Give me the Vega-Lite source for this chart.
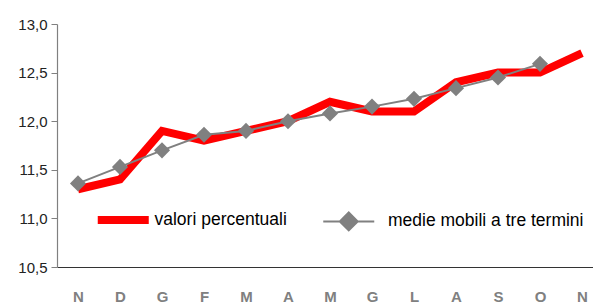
{
  "$schema": "https://vega.github.io/schema/vega-lite/v6.json",
  "width": 546,
  "height": 243,
  "autosize": "none",
  "padding": {"left": 57, "top": 24, "right": 0, "bottom": 36},
  "config": {"font": "Liberation Sans", "view": {"stroke": null}},
  "data": {"values": [
    {"i": 0, "serie": "valori percentuali", "v": 11.3},
    {"i": 1, "serie": "valori percentuali", "v": 11.4},
    {"i": 2, "serie": "valori percentuali", "v": 11.9},
    {"i": 3, "serie": "valori percentuali", "v": 11.8},
    {"i": 4, "serie": "valori percentuali", "v": 11.9},
    {"i": 5, "serie": "valori percentuali", "v": 12.0},
    {"i": 6, "serie": "valori percentuali", "v": 12.2},
    {"i": 7, "serie": "valori percentuali", "v": 12.1},
    {"i": 8, "serie": "valori percentuali", "v": 12.1},
    {"i": 9, "serie": "valori percentuali", "v": 12.4},
    {"i": 10, "serie": "valori percentuali", "v": 12.5},
    {"i": 11, "serie": "valori percentuali", "v": 12.5},
    {"i": 12, "serie": "valori percentuali", "v": 12.7},
    {"i": 0, "serie": "medie mobili a tre termini", "v": 11.36},
    {"i": 1, "serie": "medie mobili a tre termini", "v": 11.53},
    {"i": 2, "serie": "medie mobili a tre termini", "v": 11.70},
    {"i": 3, "serie": "medie mobili a tre termini", "v": 11.86},
    {"i": 4, "serie": "medie mobili a tre termini", "v": 11.90},
    {"i": 5, "serie": "medie mobili a tre termini", "v": 12.00},
    {"i": 6, "serie": "medie mobili a tre termini", "v": 12.08},
    {"i": 7, "serie": "medie mobili a tre termini", "v": 12.15},
    {"i": 8, "serie": "medie mobili a tre termini", "v": 12.23},
    {"i": 9, "serie": "medie mobili a tre termini", "v": 12.34},
    {"i": 10, "serie": "medie mobili a tre termini", "v": 12.45},
    {"i": 11, "serie": "medie mobili a tre termini", "v": 12.59}
  ]},
  "encoding": {
    "x": {
      "field": "i", "type": "ordinal",
      "scale": {"type": "point", "padding": 0.5},
      "axis": {
        "title": null, "labelAngle": 0, "ticks": false, "labelPadding": 22,
        "labelFontWeight": "bold", "labelColor": "#808080", "labelFontSize": 15,
        "domainColor": "#333333", "domainWidth": 1.2,
        "labelExpr": "['N','D','G','F','M','A','M','G','L','A','S','O','N'][datum.value]"
      }
    },
    "y": {
      "field": "v", "type": "quantitative",
      "scale": {"domain": [10.5, 13.0], "zero": false, "nice": false},
      "axis": {
        "title": null, "grid": false, "values": [10.5, 11, 11.5, 12, 12.5, 13],
        "labelExpr": "replace(format(datum.value, '.1f'), '.', ',')",
        "labelFontSize": 15, "labelColor": "#222222", "labelPadding": 4,
        "tickColor": "#808080", "tickSize": 6, "domainColor": "#808080", "domainWidth": 1.2
      }
    },
    "color": {
      "field": "serie", "type": "nominal",
      "scale": {"domain": ["valori percentuali", "medie mobili a tre termini"], "range": ["#ff0000", "#808080"]},
      "legend": {
        "title": null, "orient": "none", "direction": "horizontal",
        "legendX": 57.5, "legendY": 187,
        "symbolSize": 2601, "labelFontSize": 17.5, "labelColor": "#000000",
        "columnPadding": 31.5, "labelOffset": 22.5, "labelLimit": 400,
        "encode": {
          "symbols": {"update": {
            "shape": {"signal": "datum.value === 'valori percentuali' ? 'stroke' : 'M-1,0H1M0,-0.35L0.35,0L0,0.35L-0.35,0Z'"},
            "strokeWidth": {"signal": "datum.value === 'valori percentuali' ? 8 : 2"},
            "stroke": {"signal": "datum.value === 'valori percentuali' ? '#ff0000' : '#808080'"},
            "fill": {"signal": "datum.value === 'valori percentuali' ? 'transparent' : '#808080'"},
            "opacity": {"value": 1}
          }},
          "labels": {"update": {
            "dx": {"signal": "datum.value === 'valori percentuali' ? 0 : 8"}
          }}
        }
      }
    }
  },
  "layer": [
    {
      "transform": [{"filter": "datum.serie === 'valori percentuali'"}],
      "mark": {"type": "line", "strokeWidth": 8}
    },
    {
      "transform": [{"filter": "datum.serie === 'medie mobili a tre termini'"}],
      "mark": {"type": "line", "strokeWidth": 2}
    },
    {
      "transform": [{"filter": "datum.serie === 'medie mobili a tre termini'"}],
      "mark": {"type": "point", "shape": "diamond", "filled": true, "size": 260, "opacity": 1}
    }
  ]
}
